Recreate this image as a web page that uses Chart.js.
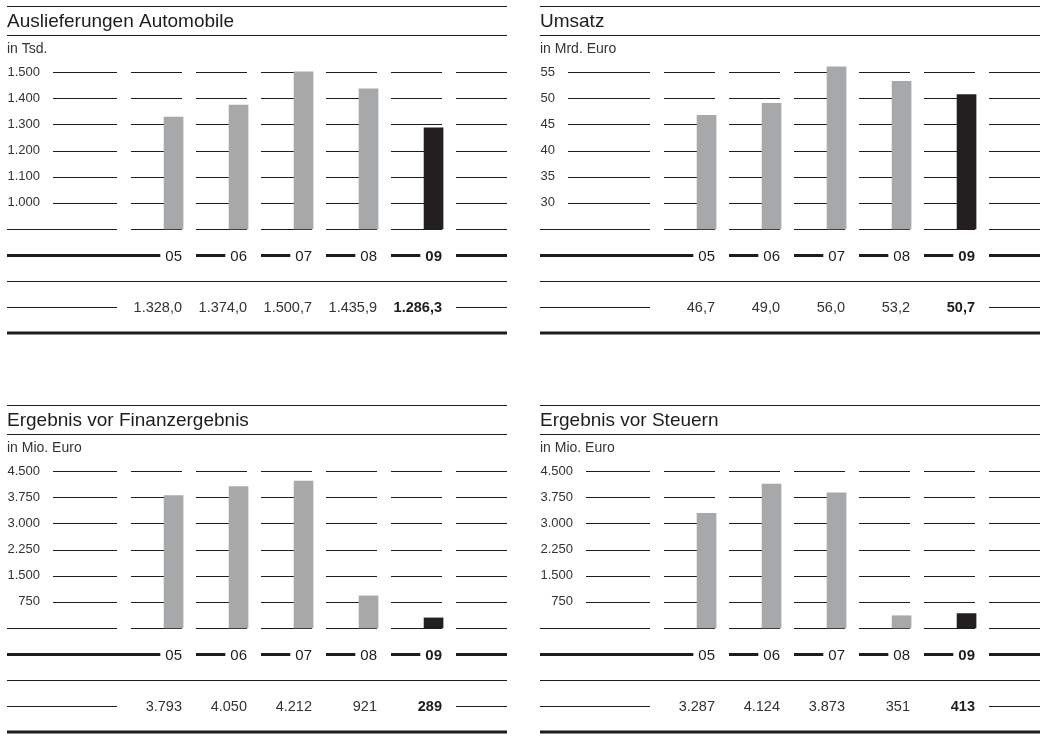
<!DOCTYPE html>
<html>
<head>
<meta charset="utf-8">
<script src="https://cdn.jsdelivr.net/npm/chart.js@4"></script>
<style>
  html, body { margin: 0; padding: 0; background: #fff; }
  .panel { position: absolute; width: 501px; height: 340px; }
</style>
</head>
<body>
<div class="panel" style="left:7px;top:0"><canvas id="deliveries"></canvas></div>
<div class="panel" style="left:540px;top:0"><canvas id="revenue"></canvas></div>
<div class="panel" style="left:7px;top:399px"><canvas id="ebit"></canvas></div>
<div class="panel" style="left:540px;top:399px"><canvas id="ebt"></canvas></div>
<script>
// years shown in every panel
var years = ["05", "06", "07", "08", "09"];

// Auslieferungen Automobile, in Tsd.
var deliveries = [1328.0, 1374.0, 1500.7, 1435.9, 1286.3];
var deliveriesTicks = [900, 1000, 1100, 1200, 1300, 1400, 1500];

// Umsatz, in Mrd. Euro
var revenue = [46.7, 49.0, 56.0, 53.2, 50.7];
var revenueTicks = [25, 30, 35, 40, 45, 50, 55];

// Ergebnis vor Finanzergebnis, in Mio. Euro
var ebit = [3793, 4050, 4212, 921, 289];
// Ergebnis vor Steuern, in Mio. Euro
var ebt = [3287, 4124, 3873, 351, 413];
var profitTicks = [0, 750, 1500, 2250, 3000, 3750, 4500];

var FONT = "'Liberation Sans', Arial, Helvetica, sans-serif";
var INK = '#1d1d1b';
var TEXT = '#333333';
var GREY = '#a7a8aa';
var DARK = '#231f20';
var AXIS_W = 110;   // room for the tick labels in front of the columns
var GAP = 14;       // gap at the start of each column
var BAR_POS = 0.87; // bars sit at the right side of their column

// German number format: 1.328,0
function fmt(v, dec) {
    var parts = v.toFixed(dec).split('.');
    parts[0] = parts[0].replace(/\B(?=(\d{3})+(?!\d))/g, '.');
    return parts.join(',');
}

function hline(ctx, x1, x2, y, w) {
    ctx.lineWidth = w;
    ctx.beginPath();
    ctx.moveTo(x1, y);
    ctx.lineTo(x2, y);
    ctx.stroke();
}

// draws the table look: rules, title, segmented grid, year row and value row
var tablePlugin = {
    id: 'table',
    beforeDatasetsDraw: function (chart, args, opts) {
        var ctx = chart.ctx;
        var area = chart.chartArea;
        var x = chart.scales.x;
        var y = chart.scales.y;
        var W = area.right;
        var cols = years.length + 1;
        var labelRight = y.right - y.options.ticks.padding;

        ctx.save();
        ctx.strokeStyle = INK;
        ctx.fillStyle = INK;

        // header
        hline(ctx, 0, W, 6.5, 1);
        ctx.font = '19px ' + FONT;
        ctx.textAlign = 'left';
        ctx.textBaseline = 'alphabetic';
        ctx.fillText(opts.title, 0, 27);
        hline(ctx, 0, W, 35.5, 1);
        ctx.font = '14px ' + FONT;
        ctx.fillStyle = TEXT;
        ctx.fillText(opts.unit, 0, 53);

        // grid, broken up per column
        y.ticks.forEach(function (t) {
            var py = Math.round(y.getPixelForValue(t.value)) + 0.5;
            var start = t.value === y.min ? 0 : labelRight + 13;
            hline(ctx, start, x.getPixelForValue(0), py, 1);
            for (var k = 0; k < cols; k++) {
                hline(ctx, x.getPixelForValue(k) + GAP, x.getPixelForValue(k + 1), py, 1);
            }
        });

        // year row
        var last = years.length - 1;
        ctx.textAlign = 'right';
        ctx.fillStyle = INK;
        years.forEach(function (yr, k) {
            ctx.font = (k === last ? 'bold ' : '') + '15px ' + FONT;
            var right = x.getPixelForValue(k + 1);
            var tw = ctx.measureText(yr).width;
            var start = k === 0 ? 0 : x.getPixelForValue(k) + GAP;
            hline(ctx, start, right - tw - 5, 255.5, 3);
            ctx.fillText(yr, right, 260.5);
        });
        hline(ctx, x.getPixelForValue(cols - 1) + GAP, x.getPixelForValue(cols), 255.5, 3);

        hline(ctx, 0, W, 281.5, 1);

        // value row
        hline(ctx, 0, x.getPixelForValue(0), 307.5, 1);
        hline(ctx, x.getPixelForValue(cols - 1) + GAP, x.getPixelForValue(cols), 307.5, 1);
        var data = chart.data.datasets[0].data;
        data.forEach(function (p, k) {
            ctx.font = (k === last ? 'bold ' : '') + '14.5px ' + FONT;
            ctx.fillStyle = k === last ? INK : TEXT;
            ctx.fillText(fmt(p.y, opts.decimals), x.getPixelForValue(k + 1), 311.5);
        });

        hline(ctx, 0, W, 333, 3);
        ctx.restore();
    }
};

function makeChart(id, title, unit, values, ticks, decimals, tickPadding) {
    var ctx = document.getElementById(id).getContext('2d');
    return new Chart(ctx, {
        type: 'bar',
        data: {
            labels: years,
            datasets: [{
                data: values.map(function (v, i) { return {x: i + BAR_POS, y: v}; }),
                backgroundColor: values.map(function (v, i) { return i === values.length - 1 ? DARK : GREY; }),
                barThickness: 19,
                base: ticks[0],
                clip: false
            }]
        },
        plugins: [tablePlugin],
        options: {
            responsive: true,
            maintainAspectRatio: false,
            animation: false,
            layout: { padding: { top: 72, bottom: 111, left: 0, right: 1 } },
            scales: {
                x: {
                    type: 'linear',
                    offset: false,
                    min: 0,
                    max: years.length + 1,
                    display: false
                },
                y: {
                    min: ticks[0],
                    max: ticks[ticks.length - 1],
                    afterBuildTicks: function (scale) {
                        scale.ticks = ticks.map(function (v) { return {value: v}; });
                    },
                    afterFit: function (scale) {
                        scale.width = AXIS_W;
                        scale.paddingTop = 0;
                        scale.paddingBottom = 0;
                    },
                    grid: { display: false, drawTicks: false },
                    border: { display: false },
                    ticks: {
                        autoSkip: false,
                        padding: tickPadding,
                        color: TEXT,
                        font: { family: FONT, size: 13 },
                        callback: function (v) { return v === ticks[0] ? '' : fmt(v, 0); }
                    }
                }
            },
            plugins: {
                legend: { display: false },
                tooltip: { enabled: false },
                table: { title: title, unit: unit, decimals: decimals }
            }
        }
    });
}

makeChart('deliveries', 'Auslieferungen Automobile', 'in Tsd.', deliveries, deliveriesTicks, 1, 77);
makeChart('revenue', 'Umsatz', 'in Mrd. Euro', revenue, revenueTicks, 1, 95);
makeChart('ebit', 'Ergebnis vor Finanzergebnis', 'in Mio. Euro', ebit, profitTicks, 0, 77);
makeChart('ebt', 'Ergebnis vor Steuern', 'in Mio. Euro', ebt, profitTicks, 0, 77);
</script>
</body>
</html>
